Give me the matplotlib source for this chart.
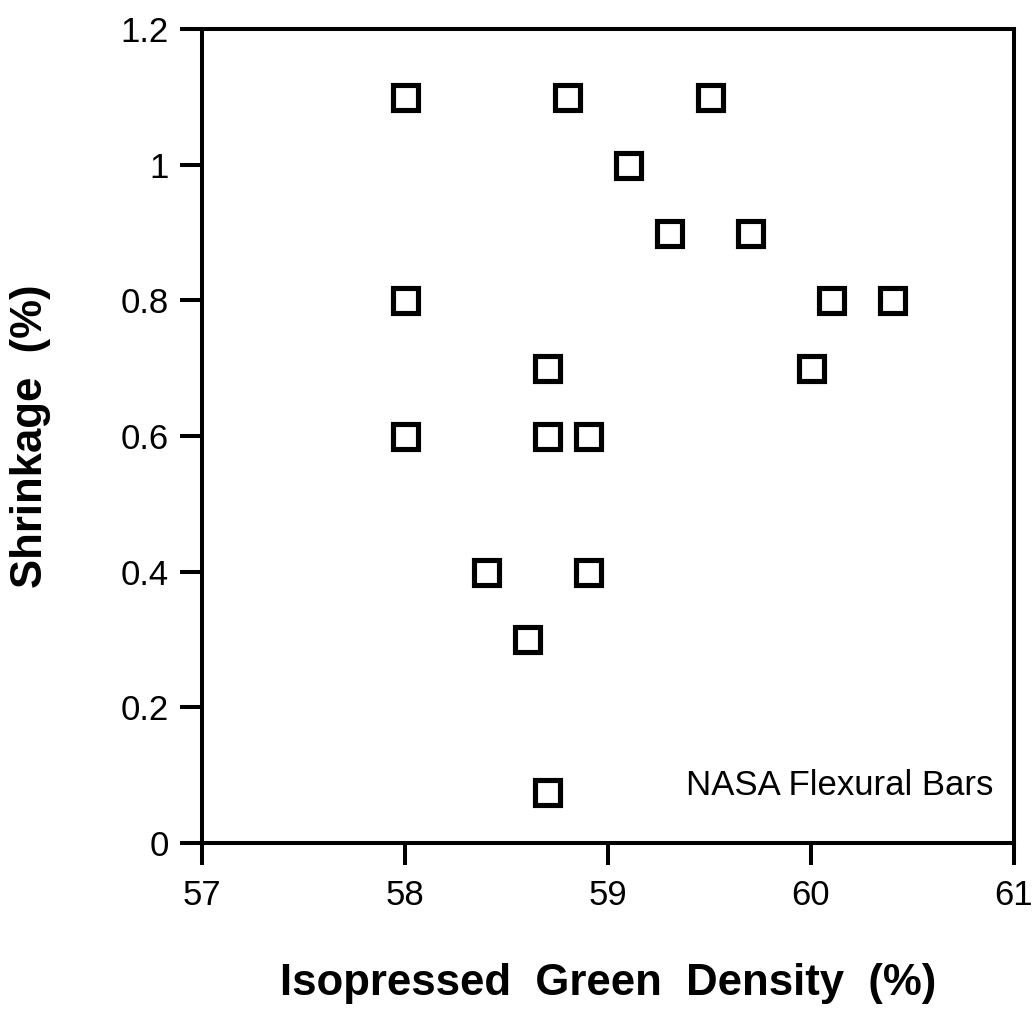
import matplotlib
matplotlib.use("Agg")
import matplotlib.pyplot as plt

# Isopressed green density (%) vs. shrinkage (%) for the flexural bars
density = [58.0, 58.8, 59.5, 59.1, 59.3, 59.7, 58.0, 60.1, 60.4,
           58.7, 60.0, 58.0, 58.7, 58.9, 58.4, 58.9, 58.6, 58.7]
shrinkage = [1.1, 1.1, 1.1, 1.0, 0.9, 0.9, 0.8, 0.8, 0.8,
             0.7, 0.7, 0.6, 0.6, 0.6, 0.4, 0.4, 0.3, 0.075]

x_ticks = [57, 58, 59, 60, 61]
y_ticks = [0, 0.2, 0.4, 0.6, 0.8, 1.0, 1.2]
y_tick_labels = ["0", "0.2", "0.4", "0.6", "0.8", "1", "1.2"]

plt.rcParams["font.family"] = ["Liberation Sans", "DejaVu Sans"]

fig = plt.figure(figsize=(10.34, 10.11), dpi=100)
ax = fig.add_axes([0.1954, 0.1662, 0.7853, 0.8051])

ax.plot(density, shrinkage, linestyle="none", marker="s", markersize=18,
        markerfacecolor="white", markeredgecolor="black", markeredgewidth=3.7,
        clip_on=False)

ax.set_xlim(57, 61)
ax.set_ylim(0, 1.2)
ax.set_xticks(x_ticks)
ax.set_xticklabels([str(t) for t in x_ticks])
ax.set_yticks(y_ticks)
ax.set_yticklabels(y_tick_labels)

for s in ax.spines.values():
    s.set_linewidth(2.9)

ax.tick_params(axis="both", direction="out", length=16, width=2.9,
               labelsize=25, color="black")
ax.tick_params(axis="y", pad=8)
ax.tick_params(axis="x", pad=10)

ax.set_xlabel("Isopressed  Green  Density  (%)", fontsize=31.5, fontweight="bold")
ax.set_ylabel("Shrinkage  (%)", fontsize=31.5, fontweight="bold")
ax.xaxis.set_label_coords(0.5, -0.147)
ax.yaxis.set_label_coords(-0.186, 0.5)

ax.text(60.9, 0.084, "NASA Flexural Bars", fontsize=25,
        ha="right", va="center")

fig.savefig("out.png", dpi=100)
